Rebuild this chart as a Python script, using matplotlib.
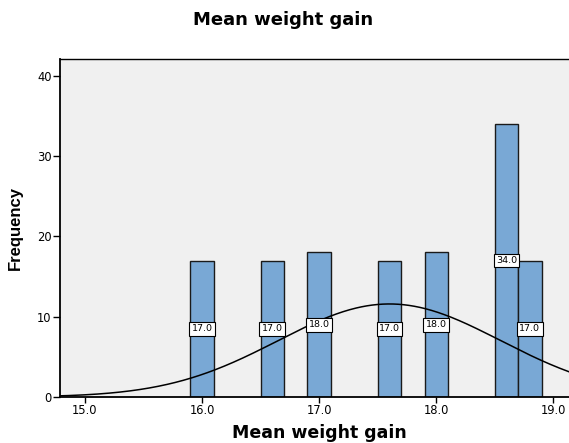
import numpy as np
import matplotlib
matplotlib.use("Agg")
import matplotlib.pyplot as plt

# bin centres and frequencies
bin_centres = [16.0, 16.6, 17.0, 17.6, 18.0, 18.6, 18.8]
frequencies = [17, 17, 18, 17, 18, 34, 17]
bin_width = 0.2
x_ticks = [15.0, 16.0, 17.0, 18.0, 19.0]
y_ticks = [0, 10, 20, 30, 40]
curve_mean = 17.6
curve_sd = 0.95

plt.rcParams['font.family'] = ['DejaVu Sans']

fig = plt.figure(figsize=(5.69, 4.43), dpi=100)
ax = fig.add_axes([0.1054, 0.1038, 0.8946, 0.763])
ax.set_facecolor('#f0f0f0')

ax.bar(bin_centres, frequencies, width=bin_width, color='#79a8d5',
       edgecolor='#1a1a1a', linewidth=1.0, zorder=2)

n = sum(frequencies)
xs = np.linspace(14.7, 19.2, 400)
ys = n * bin_width / (curve_sd * np.sqrt(2 * np.pi)) * np.exp(-0.5 * ((xs - curve_mean) / curve_sd) ** 2)
ax.plot(xs, ys, color='black', linewidth=1.1, zorder=3)

for c, f in zip(bin_centres, frequencies):
    ax.text(c, f / 2, f"{f:.1f}", ha='center', va='center', fontsize=6.8, zorder=4,
            bbox=dict(boxstyle='square,pad=0.25', facecolor='white', edgecolor='black', linewidth=0.8))

ax.set_xlim(14.786, 19.134)
ax.set_ylim(0, 42.1)
ax.set_xticks(x_ticks)
ax.set_xticklabels([f"{t:.1f}" for t in x_ticks])
ax.set_yticks(y_ticks)
ax.tick_params(axis='both', labelsize=8.3, direction='out', length=5, width=1, color='black')
ax.tick_params(axis='y', pad=1)
ax.tick_params(axis='x', length=4, pad=1)

for s in ['left', 'bottom']:
    ax.spines[s].set_linewidth(1.3)
ax.spines['top'].set_linewidth(1.0)
ax.spines['right'].set_visible(False)

ax.set_xlabel('Mean weight gain', fontsize=12.5, fontweight='bold')
ax.xaxis.set_label_coords(0.51, -0.08)
ax.set_ylabel('Frequency', fontsize=12, fontweight='bold',
              family=['Liberation Sans Narrow', 'Liberation Sans'], labelpad=10)
fig.text(0.497, 0.955, 'Mean weight gain', ha='center', va='center', fontsize=13, fontweight='bold')

fig.savefig('out.png', dpi=100)
